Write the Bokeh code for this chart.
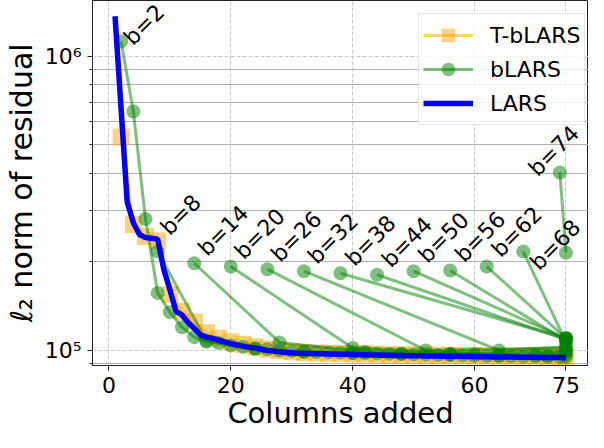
from bokeh.plotting import figure
from bokeh.models import ColumnDataSource, FixedTicker, Legend, LegendItem, Range1d, LabelSet
from bokeh.embed import file_html
from bokeh.resources import INLINE
from bokeh.core.properties import value

FONT = "DejaVu Sans"

# ---------------- data ----------------
lars_x = list(range(1, 76))
lars_y = [1.37e6, 6.6e5, 3.2e5, 2.72e5, 2.48e5, 2.42e5, 2.41e5, 2.39e5, 1.89e5, 1.61e5,
          1.36e5, 1.32e5, 1.245e5, 1.19e5, 1.13e5, 1.11e5, 1.10e5, 1.085e5, 1.07e5, 1.055e5,
          1.045e5, 1.035e5, 1.025e5, 1.02e5, 1.01e5, 1.0e5, 9.95e4, 9.9e4, 9.85e4, 9.8e4,
          9.78e4, 9.77e4, 9.76e4, 9.75e4, 9.74e4, 9.73e4, 9.72e4, 9.71e4, 9.7e4, 9.69e4,
          9.68e4, 9.67e4, 9.66e4, 9.65e4, 9.64e4, 9.63e4, 9.62e4, 9.61e4, 9.6e4, 9.6e4,
          9.59e4, 9.58e4, 9.57e4, 9.57e4, 9.56e4, 9.55e4, 9.55e4, 9.54e4, 9.53e4, 9.53e4,
          9.52e4, 9.52e4, 9.51e4, 9.51e4, 9.5e4, 9.5e4, 9.49e4, 9.49e4, 9.48e4, 9.48e4,
          9.47e4, 9.47e4, 9.47e4, 9.46e4, 9.46e4]

tblars_x = [2, 4, 6, 8, 10, 12, 14, 16, 18, 20, 22, 24, 26, 28, 30, 32, 34, 36, 38,
            40, 42, 44, 46, 48, 50, 52, 54, 56, 58, 60, 62, 64, 66, 68, 70, 72, 74, 75]
tblars_y = [5.32e5, 2.68e5, 2.44e5, 2.36e5, 1.55e5, 1.36e5, 1.25e5, 1.15e5, 1.10e5, 1.07e5,
            1.05e5, 1.03e5, 1.01e5, 1.0e5, 9.9e4, 9.85e4, 9.8e4, 9.78e4, 9.76e4,
            9.74e4, 9.72e4, 9.7e4, 9.68e4, 9.66e4, 9.65e4, 9.64e4, 9.63e4, 9.62e4, 9.61e4,
            9.6e4, 9.59e4, 9.58e4, 9.57e4, 9.56e4, 9.55e4, 9.54e4, 9.53e4, 9.52e4]

blars_b = [2, 8, 14, 20, 26, 32, 38, 44, 50, 56, 62, 68, 74]
blars_x = [
    [2, 4, 6, 8, 10, 12, 14, 16, 18, 20, 22, 24, 26, 28, 30, 32, 34, 36, 38,
     40, 42, 44, 46, 48, 50, 52, 54, 56, 58, 60, 62, 64, 66, 68, 70, 72, 74, 75],
    [8, 16, 24, 32, 40, 48, 56, 64, 72, 75],
    [14, 28, 42, 56, 70, 75],
    [20, 40, 60, 75],
    [26, 52, 75],
    [32, 64, 75],
    [38, 75],
    [44, 75],
    [50, 75],
    [56, 75],
    [62, 75],
    [68, 75],
    [74, 75],
]
blars_y = [
    [1.125e6, 6.5e5, 2.8e5, 1.57e5, 1.35e5, 1.2e5, 1.11e5, 1.07e5, 1.06e5, 1.04e5,
     1.03e5, 1.02e5, 1.01e5, 1.0e5, 9.95e4, 9.9e4, 9.87e4, 9.85e4, 9.82e4,
     9.8e4, 9.78e4, 9.76e4, 9.74e4, 9.72e4, 9.7e4, 9.68e4, 9.66e4, 9.64e4, 9.62e4,
     9.6e4, 9.58e4, 9.56e4, 9.55e4, 9.54e4, 9.53e4, 9.52e4, 9.51e4, 9.5e4],
    [2.17e5, 1.08e5, 1.01e5, 9.9e4, 9.8e4, 9.75e4, 9.7e4, 9.65e4, 9.6e4, 9.7e4],
    [1.98e5, 1.065e5, 9.9e4, 9.75e4, 9.65e4, 9.9e4],
    [1.93e5, 1.02e5, 9.75e4, 1.0e5],
    [1.89e5, 1.0e5, 1.02e5],
    [1.86e5, 1.0e5, 1.03e5],
    [1.83e5, 1.1e5],
    [1.81e5, 1.09e5],
    [1.86e5, 1.1e5],
    [1.87e5, 1.08e5],
    [1.93e5, 1.1e5],
    [2.17e5, 1.07e5],
    [4.03e5, 2.15e5],
]

x_ticks = [0, 20, 40, 60, 75]
y_ticks = [1e5, 1e6]
y_minor = [9e4, 2e5, 3e5, 4e5, 5e5, 6e5, 7e5, 8e5, 9e5]
y_tick_labels = {1e5: "10\u2075", 1e6: "10\u2076"}

# label placement (screen offsets, px) per b label
lab_dx = [12, 12, 13, 13, 13, 13, 14, 14, 14, 14, 14, 16, -22]
lab_dy = [5, -15, -6, -6, -6, -6, -6, -6, -7, -7, -8, 20, 5]

# ---------------- figure ----------------
p = figure(width=588, height=432, y_axis_type="log",
           x_range=Range1d(-2.7, 78.7), y_range=Range1d(8.89e4, 1.55e6),
           output_backend="svg", toolbar_location=None,
           min_border_left=84, min_border_right=0, min_border_top=0, min_border_bottom=0)

p.background_fill_color = "white"
p.border_fill_color = "white"
p.outline_line_color = "#222222"
p.outline_line_width = 1

# axes
p.xaxis.ticker = FixedTicker(ticks=x_ticks, minor_ticks=[])
p.yaxis.ticker = FixedTicker(ticks=y_ticks, minor_ticks=y_minor)
p.yaxis.major_label_overrides = y_tick_labels
for ax in (p.xaxis, p.yaxis):
    ax.axis_line_color = "#222222"
    ax.major_tick_line_color = "#222222"
    ax.minor_tick_line_color = "#222222"
    ax.major_tick_out = 5
    ax.major_tick_in = 0
    ax.minor_tick_out = 3
    ax.minor_tick_in = 0
    ax.major_label_text_font = FONT
    ax.major_label_text_font_size = "22px"
    ax.major_label_text_color = "black"
    ax.axis_label_text_font = FONT
    ax.axis_label_text_font_style = "normal"
    ax.axis_label_text_color = "black"
p.xaxis.axis_label = "Columns added"
p.yaxis.axis_label = "\u2113\u2082 norm of residual"
p.xaxis.axis_label_text_font_size = "29px"
p.yaxis.axis_label_text_font_size = "30px"
p.xaxis.major_label_standoff = 6
p.xaxis.axis_label_standoff = 0
p.yaxis.major_label_standoff = 6
p.yaxis.axis_label_standoff = 3

# grids
p.xgrid.ticker = FixedTicker(ticks=x_ticks, minor_ticks=[])
p.xgrid.grid_line_color = "#c8c8c8"
p.xgrid.grid_line_dash = "4 2"
p.xgrid.grid_line_width = 1
p.ygrid.grid_line_color = "#c8c8c8"
p.ygrid.grid_line_dash = "4 2"
p.ygrid.grid_line_width = 1
p.ygrid.minor_grid_line_color = "#b0b0b0"
p.ygrid.minor_grid_line_width = 1

# T-bLARS
tsrc = ColumnDataSource(dict(x=tblars_x, y=tblars_y))
t_line = p.line("x", "y", source=tsrc, line_color="orange", line_alpha=0.5, line_width=3)
t_sq = p.scatter("x", "y", source=tsrc, marker="square", size=17,
                 fill_color="orange", fill_alpha=0.5, line_color=None)

# bLARS
b_line0 = b_pt0 = None
for xs, ys in zip(blars_x, blars_y):
    src = ColumnDataSource(dict(x=xs, y=ys))
    bl = p.line("x", "y", source=src, line_color="green", line_alpha=0.5, line_width=3)
    bp = p.scatter("x", "y", source=src, marker="circle", size=14,
                   fill_color="green", fill_alpha=0.5, line_color=None)
    if b_line0 is None:
        b_line0, b_pt0 = bl, bp

# LARS
lsrc = ColumnDataSource(dict(x=lars_x, y=lars_y))
l_line = p.line("x", "y", source=lsrc, line_color="blue", line_width=5.5)

# b labels
lab_src = ColumnDataSource(dict(
    x=blars_b,
    y=[ys[0] for ys in blars_y],
    text=["b=%d" % b for b in blars_b],
    dx=lab_dx, dy=[-d for d in lab_dy],
))
labels = LabelSet(x="x", y="y", text="text", source=lab_src, angle=45, angle_units="deg",
                  x_offset="dx", y_offset="dy", text_font=value(FONT),
                  text_font_size=value("22px"),
                  text_align="left", text_baseline="alphabetic", text_color="black")
p.add_layout(labels)

legend = Legend(items=[
    LegendItem(label="T-bLARS", renderers=[t_line, t_sq]),
    LegendItem(label="bLARS", renderers=[b_line0, b_pt0]),
    LegendItem(label="LARS", renderers=[l_line]),
], location=(326, 240))
legend.label_text_font = FONT
legend.label_text_font_size = "22px"
legend.label_text_color = "black"
legend.glyph_width = 50
legend.glyph_height = 34
legend.spacing = -1
legend.padding = 4
legend.label_standoff = 17
legend.margin = 0
legend.border_line_color = "#cccccc"
legend.border_line_width = 1
legend.background_fill_alpha = 0.8
p.add_layout(legend)

open("out.html", "w").write(file_html(p, INLINE))
